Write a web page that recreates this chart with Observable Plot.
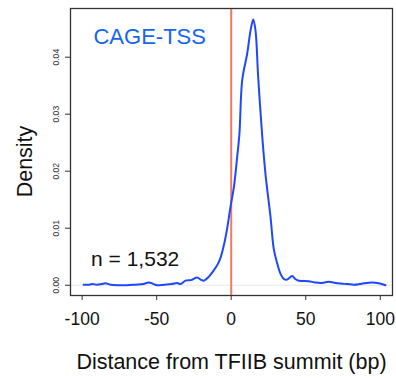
<!DOCTYPE html>
<html>
<head>
<meta charset="utf-8">
<script src="https://cdn.jsdelivr.net/npm/d3@7"></script>
<script src="https://cdn.jsdelivr.net/npm/@observablehq/plot@0.6"></script>
<style>
  html, body { margin: 0; padding: 0; background: #fff; }
  #chart svg { display: block; }
</style>
</head>
<body>
<div id="chart"></div>
<script>
const distance = [-99, -96, -93, -90, -87, -84.3, -81, -75, -70, -64, -59, -55.3, -52, -49.7, -45, -40, -36.2, -34, -30.7, -27, -22.8, -20.5, -18.4, -15, -11.7, -9, -7.2, -4.5, -2.5, -0.5, 1.8, 4.0, 5.5, 7.4, 10.7, 13, 14.8, 16.3, 18.1, 20.8, 23, 26.4, 28.6, 30.9, 33.1, 35, 37.1, 40.9, 43, 45.4, 52, 56, 60, 65.5, 70, 73.4, 78, 82.3, 86, 89, 94.6, 99, 103.5];
const density = [0.0001, 0.0001, 0.0002, 0.0001, 0.0002, 0.00035, 0.0001, 0.0, 0.0, 0.0001, 0.0002, 0.0005, 0.0002, 0.0, 0.0001, 0.0002, 0.0004, 0.0002, 0.0008, 0.0009, 0.00135, 0.0010, 0.0008, 0.0015, 0.0026, 0.0037, 0.0048, 0.0075, 0.0103, 0.0137, 0.0172, 0.0225, 0.0265, 0.0360, 0.0406, 0.0447, 0.0466, 0.0447, 0.0365, 0.0262, 0.0195, 0.0119, 0.0063, 0.0038, 0.0020, 0.0012, 0.00095, 0.0016, 0.0011, 0.0008, 0.0007, 0.0005, 0.0004, 0.0006, 0.0004, 0.0003, 0.0002, 0.0001, 0.0002, 0.00035, 0.0005, 0.00035, 0.0];
const xTicks = [-100, -50, 0, 50, 100];
const yTicks = [0, 0.01, 0.02, 0.03, 0.04];
const xTitle = "Distance from TFIIB summit (bp)";
const yTitle = "Density";
const seriesLabel = "CAGE-TSS";
const countLabel = "n = 1,532";

const data = distance.map((d, i) => ({x: d, y: density[i]}));

const chart = Plot.plot({
  width: 396,
  height: 378,
  marginLeft: 70,
  marginTop: 8,
  marginRight: 4,
  marginBottom: 83,
  style: {fontFamily: "'Liberation Sans', Arial, Helvetica, sans-serif", background: "#fff"},
  x: {domain: [-107.8, 108.2]},
  y: {domain: [-0.0018, 0.04854]},
  marks: [
    Plot.ruleY([0], {stroke: "#e6e6e6", strokeWidth: 1}),
    Plot.ruleX([0], {stroke: "#ef7a66", strokeWidth: 2}),
    Plot.line(data, {x: "x", y: "y", stroke: "#1f47ff", strokeWidth: 2, curve: "catmull-rom"}),
    Plot.frame({stroke: "#333", strokeWidth: 1.3}),
    Plot.axisX(xTicks, {tickSize: 5, tickPadding: 12, fontSize: 17.5, fill: "#111", stroke: "#333", label: null, tickFormat: d => String(d).replace("\u2212", "-")}),
    Plot.axisY(yTicks, {tickSize: 5, stroke: "#333", text: null, label: null}),
    Plot.text(yTicks, {y: d => d, text: d => d3.format(".2f")(d), frameAnchor: "left", dx: -12, rotate: -90, textAnchor: "middle", lineAnchor: "bottom", fontSize: 8.6, fill: "#333"}),
    Plot.text([seriesLabel], {x: -92.4, y: 0.04223, text: d => d, textAnchor: "start", lineAnchor: "bottom", fontSize: 22, fill: "#1565f2"}),
    Plot.text([countLabel], {x: -94, y: 0.00346, text: d => d, textAnchor: "start", lineAnchor: "bottom", fontSize: 21, fill: "#111"}),
    Plot.text([xTitle], {frameAnchor: "bottom", text: d => d, dy: 73, lineAnchor: "bottom", fontSize: 21.5, fill: "#111"}),
    Plot.text([yTitle], {frameAnchor: "left", text: d => d, dx: -39, dy: 9.5, rotate: -90, textAnchor: "middle", lineAnchor: "bottom", fontSize: 21.5, fill: "#111"})
  ]
});
document.getElementById("chart").appendChild(chart);
</script>
</body>
</html>
